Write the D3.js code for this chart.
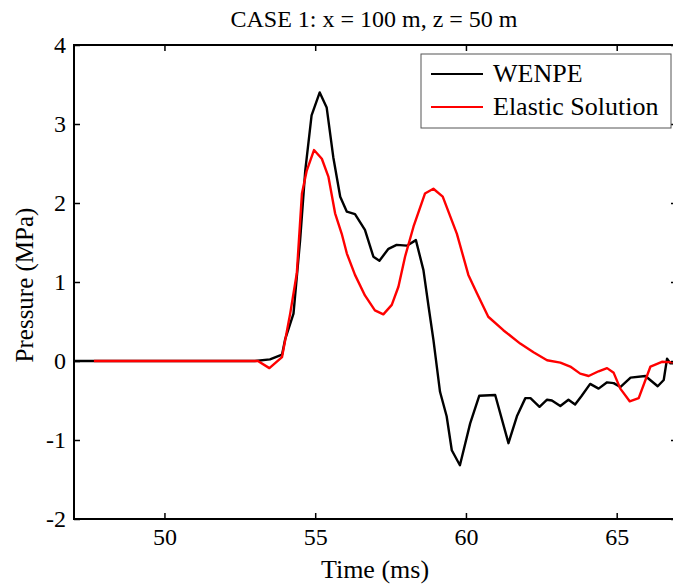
<!DOCTYPE html>
<html>
<head>
<meta charset="utf-8">
<script src="https://cdn.jsdelivr.net/npm/d3@7"></script>
<style>
  body { margin: 0; background: #fff; }
  svg { display: block; }
  svg text { font-family: "Liberation Serif", "Times New Roman", serif !important; fill: #000; }
</style>
</head>
<body>
<svg id="chart" width="673" height="587"></svg>
<script>
// Time (ms) / pressure (MPa)
const wenpeTime = [47, 53.0, 53.5, 53.9, 54.0, 54.28, 54.5, 54.67, 54.88, 55.15, 55.38, 55.6, 55.83, 56.05, 56.32, 56.65, 56.93, 57.13, 57.43, 57.7, 58.04, 58.34, 58.59, 58.76, 58.92, 59.14, 59.36, 59.53, 59.8, 60.14, 60.44, 60.97, 61.41, 61.69, 61.97, 62.14, 62.44, 62.69, 62.85, 63.13, 63.4, 63.62, 63.84, 64.12, 64.4, 64.68, 64.9, 65.12, 65.46, 65.95, 66.36, 66.56, 66.67, 66.78, 67];
const wenpeP = [0, 0, 0.02, 0.08, 0.27, 0.60, 1.53, 2.41, 3.11, 3.40, 3.21, 2.58, 2.08, 1.89, 1.86, 1.66, 1.32, 1.27, 1.42, 1.47, 1.46, 1.53, 1.15, 0.69, 0.27, -0.39, -0.70, -1.13, -1.32, -0.79, -0.44, -0.43, -1.04, -0.70, -0.47, -0.47, -0.58, -0.49, -0.50, -0.57, -0.49, -0.55, -0.44, -0.29, -0.35, -0.27, -0.28, -0.33, -0.21, -0.19, -0.32, -0.24, 0.03, -0.03, -0.03];

const elasticTime = [47.66, 53.1, 53.48, 53.9, 54.17, 54.39, 54.56, 54.72, 54.96, 55.22, 55.44, 55.66, 55.88, 56.05, 56.32, 56.65, 56.98, 57.26, 57.54, 57.76, 57.98, 58.26, 58.64, 58.92, 59.23, 59.7, 60.08, 60.36, 60.74, 61.24, 61.8, 62.24, 62.69, 63.13, 63.46, 63.79, 64.07, 64.4, 64.68, 64.9, 65.12, 65.43, 65.73, 66.12, 66.5, 67];
const elasticP = [0, 0, -0.09, 0.05, 0.60, 1.11, 2.12, 2.41, 2.67, 2.56, 2.33, 1.87, 1.61, 1.36, 1.09, 0.83, 0.64, 0.59, 0.71, 0.94, 1.32, 1.70, 2.12, 2.18, 2.08, 1.61, 1.09, 0.86, 0.56, 0.39, 0.22, 0.11, 0.01, -0.02, -0.07, -0.16, -0.19, -0.13, -0.09, -0.15, -0.35, -0.51, -0.47, -0.07, -0.01, -0.02];

const xTicks = [50, 55, 60, 65];
const yTicks = [-2, -1, 0, 1, 2, 3, 4];
const seriesNames = ["WENPE", "Elastic Solution"];
const seriesColours = ["#000000", "#ff0000"];

const serif = "'Liberation Serif', 'Times New Roman', serif";

const svg = d3.select("#chart");
const margin = { top: 45, right: -4, bottom: 68, left: 74 };
const width = 673 - margin.left - margin.right;
const height = 587 - margin.top - margin.bottom;

const g = svg.append("g").attr("transform", `translate(${margin.left}, ${margin.top})`);

const xScale = d3.scaleLinear().domain([47, 67]).range([0, width]);
const yScale = d3.scaleLinear().domain([-2, 4]).range([height, 0]);

g.append("clipPath").attr("id", "plotClip")
    .append("rect").attr("width", width).attr("height", height);

// Lines
const lineGenerator = d3.line()
    .x(d => xScale(d[0]))
    .y(d => yScale(d[1]));

const series = [
    d3.zip(wenpeTime, wenpeP),
    d3.zip(elasticTime, elasticP),
];

series.forEach((s, i) => {
    g.append("path")
        .datum(s)
        .attr("d", lineGenerator)
        .attr("clip-path", "url(#plotClip)")
        .attr("fill", "none")
        .attr("stroke", seriesColours[i])
        .attr("stroke-width", 2.4)
        .attr("stroke-linejoin", "round");
});

// Axes, matlab style box with inward ticks
const tickLen = 6;
const plain = d => String(d); // plain hyphen for negatives, like the original
g.append("g")
    .attr("transform", `translate(0, ${height})`)
    .call(d3.axisBottom(xScale).tickValues(xTicks).tickFormat(plain).tickSizeInner(-tickLen).tickSizeOuter(0).tickPadding(9))
    .call(a => a.select(".domain").remove());
g.append("g")
    .call(d3.axisTop(xScale).tickValues(xTicks).tickSizeInner(-tickLen).tickSizeOuter(0).tickFormat(""))
    .call(a => a.select(".domain").remove());
g.append("g")
    .call(d3.axisLeft(yScale).tickValues(yTicks).tickFormat(plain).tickSizeInner(-tickLen).tickSizeOuter(0).tickPadding(8))
    .call(a => a.select(".domain").remove());
g.append("g")
    .attr("transform", `translate(${width}, 0)`)
    .call(d3.axisRight(yScale).tickValues(yTicks).tickSizeInner(-tickLen).tickSizeOuter(0).tickFormat(""))
    .call(a => a.select(".domain").remove());

g.selectAll("g").attr("font-family", serif).attr("font-size", 24);
g.selectAll(".tick line").attr("stroke", "#000").attr("stroke-width", 1.5);
g.selectAll(".tick text")
    .attr("fill", "#000")
    .style("font-size", "24px");

g.append("rect")
    .attr("width", width)
    .attr("height", height)
    .attr("fill", "none")
    .attr("stroke", "#000")
    .attr("stroke-width", 2);

// Title and labels
svg.append("text")
    .attr("x", 374).attr("y", 27)
    .attr("text-anchor", "middle")
    .style("font-size", "24px")
    .text("CASE 1: x = 100 m, z = 50 m");

svg.append("text")
    .attr("x", 375).attr("y", 578)
    .attr("text-anchor", "middle")
    .style("font-size", "26px")
    .text("Time (ms)");

svg.append("text")
    .attr("transform", "translate(33, 285) rotate(-90)")
    .attr("text-anchor", "middle")
    .style("font-size", "25px")
    .text("Pressure (MPa)");

// Legend
const legend = svg.append("g").attr("transform", "translate(421, 54)");
legend.append("rect")
    .attr("width", 250).attr("height", 74)
    .attr("fill", "#fff")
    .attr("stroke", "#555")
    .attr("stroke-width", 1);

seriesNames.forEach((name, i) => {
    const y = 20 + i * 33;
    legend.append("line")
        .attr("x1", 10).attr("x2", 62)
        .attr("y1", y).attr("y2", y)
        .attr("stroke", seriesColours[i])
        .attr("stroke-width", 2);
    legend.append("text")
        .attr("x", 72).attr("y", y + 8)
        .style("font-size", "26px")
        .text(name);
});
</script>
</body>
</html>
